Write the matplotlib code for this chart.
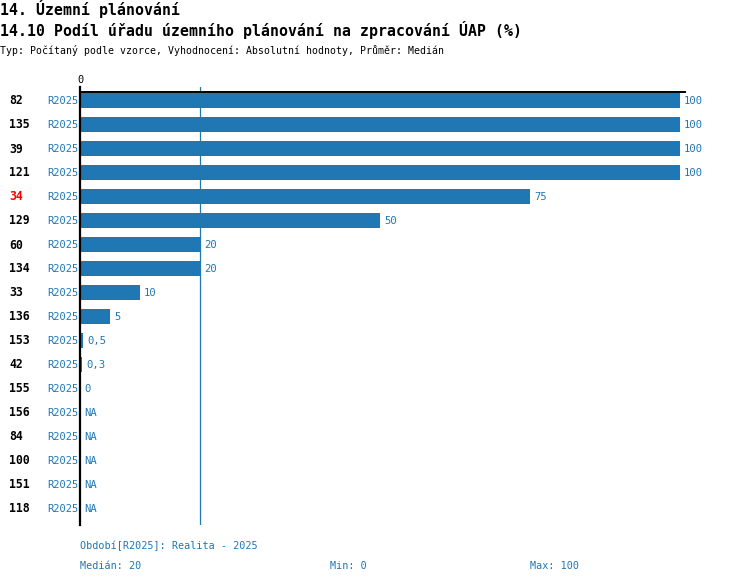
import matplotlib
matplotlib.use("Agg")
import matplotlib.pyplot as plt
import numpy as np

ids = ["82", "135", "39", "121", "34", "129", "60", "134", "33", "136",
       "153", "42", "155", "156", "84", "100", "151", "118"]
values = [100, 100, 100, 100, 75, 50, 20, 20, 10, 5, 0.5, 0.3, 0,
          None, None, None, None, None]
period = "R2025"
highlight = "34"
median = 20
vmin = 0
vmax = 100

title1 = "14. Územní plánování"
title2 = "14.10 Podíl úřadu územního plánování na zpracování ÚAP (%)"
subtitle = "Typ: Počítaný podle vzorce, Vyhodnocení: Absolutní hodnoty, Průměr: Medián"
foot1 = "Období[R2025]: Realita - 2025"
foot2 = "Medián: 20"
foot3 = "Min: 0"
foot4 = "Max: 100"

W, H = 750, 584
BLUE = "#1f77b4"
TXT = "#1f77b4"
MONO = "DejaVu Sans Mono"

fig = plt.figure(figsize=(W / 100, H / 100), dpi=100)

def fx(px):
    return px / W

def fy(py):
    return 1 - py / H

# axes: left 80px, right 685px; top 87px, bottom 525px
ax_l, ax_r, ax_t, ax_b = 80, 685, 87, 525
ax = fig.add_axes([fx(ax_l), fy(ax_b), fx(ax_r - ax_l), (ax_b - ax_t) / H])
px_per_unit = 6.0
ax.set_xlim(0, (ax_r - ax_l) / px_per_unit)
row0, step = 100, 24
ax.set_ylim((ax_b - row0) / step, (ax_t - row0) / step)
for s in ["top", "right", "bottom"]:
    ax.spines[s].set_visible(False)
ax.spines["left"].set_linewidth(1.6)
ax.spines["left"].set_color("black")
ax.set_xticks([])
ax.set_yticks([])
ax.patch.set_alpha(0)

y = np.arange(len(ids))
vals = [v if v is not None else 0 for v in values]
ax.barh(y, vals, height=0.625, color=BLUE, zorder=2)

# median line
ax.axvline(median, color=BLUE, lw=0.9, zorder=1)
# top line
ax.plot([0, (ax_r - ax_l) / px_per_unit], [(92 - row0) / step] * 2,
        color="black", lw=1.4, clip_on=False, zorder=3)

def fmt(v):
    if v is None:
        return "NA"
    if float(v).is_integer():
        return str(int(v))
    return str(v).replace(".", ",")

for i, v in enumerate(values):
    xv = v if v is not None else 0
    ax.annotate(fmt(v), (xv, i + 0.04), xytext=(3, 0), textcoords="offset points",
                ha="left", va="center", fontsize=7.6, color=TXT, family=MONO)
    fig.text(fx(9), fy(row0 + step * i + 1), ids[i], ha="left", va="center",
             fontsize=8.3, fontweight="bold", family=MONO,
             color="red" if ids[i] == highlight else "black")
    fig.text(fx(78), fy(row0 + step * i + 1), period, ha="right", va="center",
             fontsize=7.5, family=MONO, color=TXT)

fig.text(fx(80), fy(80), "0", ha="center", va="center", fontsize=7.4,
         family=MONO, color="black")

fig.text(fx(0), fy(9), title1, ha="left", va="center", fontsize=10.7,
         fontweight="bold", family=MONO)
fig.text(fx(0), fy(30), title2, ha="left", va="center", fontsize=10.7,
         fontweight="bold", family=MONO)
fig.text(fx(0), fy(50), subtitle, ha="left", va="center", fontsize=7.1,
         family=MONO)

fig.text(fx(80), fy(546), foot1, ha="left", va="center", fontsize=7.3,
         family=MONO, color=TXT)
fig.text(fx(80), fy(566), foot2, ha="left", va="center", fontsize=7.3,
         family=MONO, color=TXT)
fig.text(fx(330), fy(566), foot3, ha="left", va="center", fontsize=7.3,
         family=MONO, color=TXT)
fig.text(fx(530), fy(566), foot4, ha="left", va="center", fontsize=7.3,
         family=MONO, color=TXT)

fig.savefig("out.png", dpi=100)
